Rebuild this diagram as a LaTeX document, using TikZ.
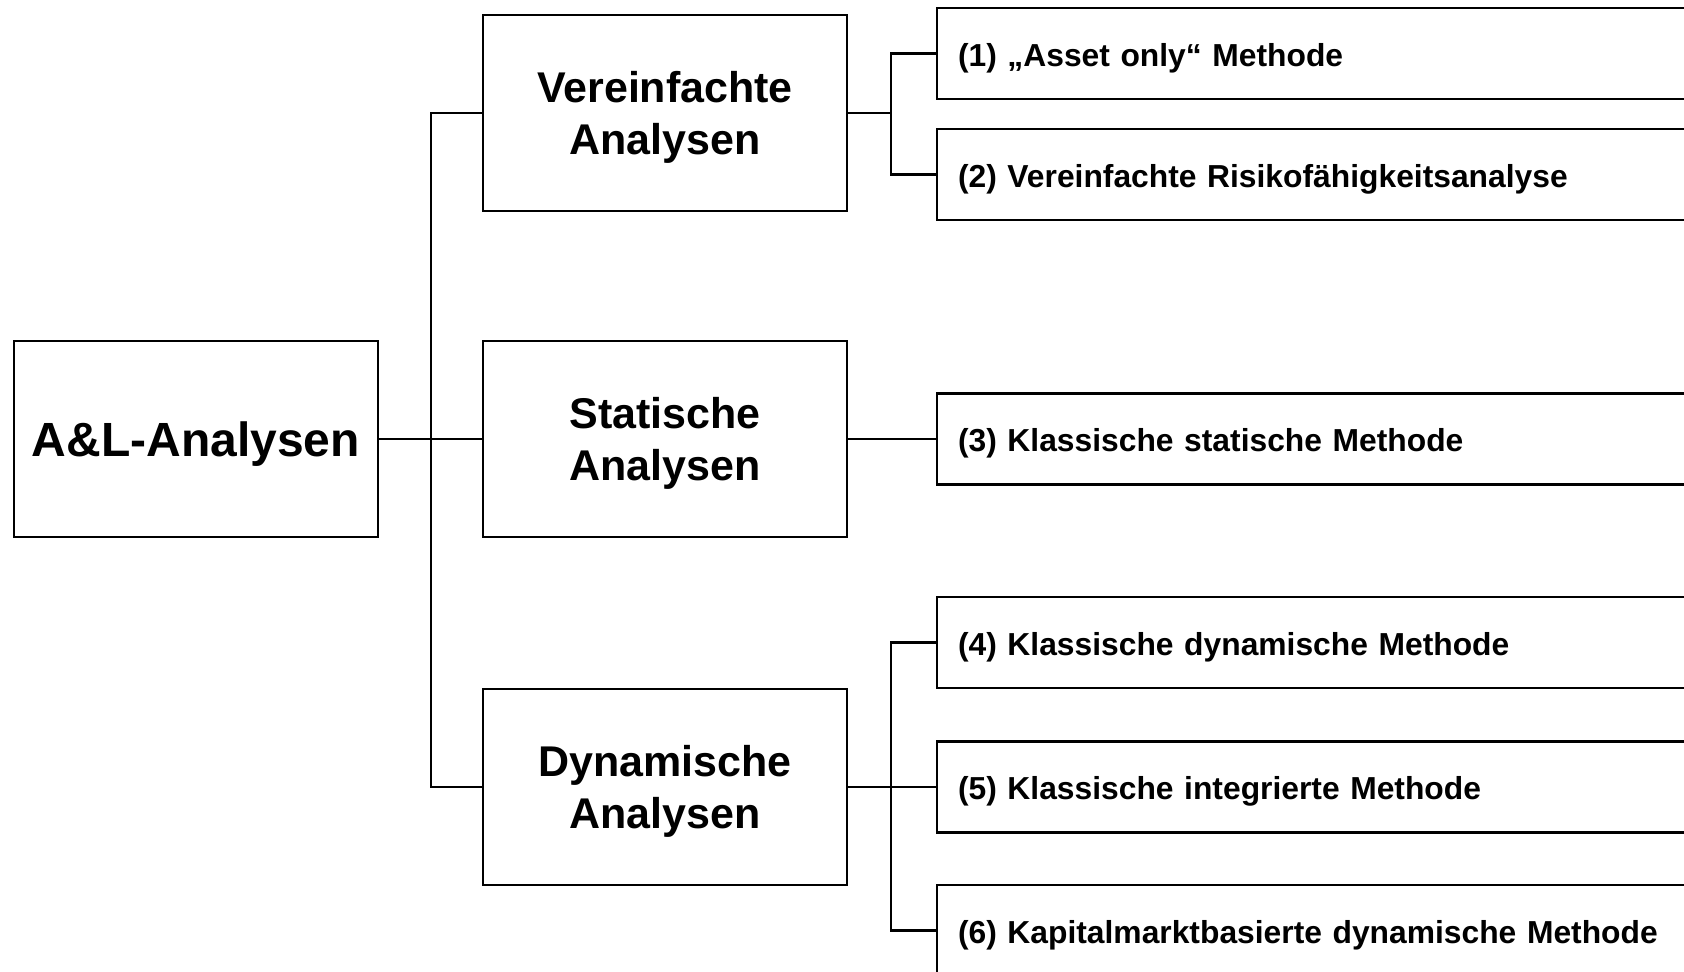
\documentclass[tikz,border=0pt]{standalone}
\usepackage{fontspec}
\setmainfont{Liberation Sans}
\begin{document}
\begin{tikzpicture}[x=0.5pt,y=-0.5pt,
  box/.style={draw=black,line width=1.1pt,fill=white,inner sep=0pt,text depth=0pt,font=\bfseries},
  rootbox/.style={box,minimum width=182pt,minimum height=98pt,font=\fontsize{24}{28}\bfseries\selectfont},
  groupbox/.style={box,minimum width=182pt,minimum height=98pt,align=center,font=\fontsize{21.5}{25.8}\bfseries\selectfont},
  methodbox/.style={box,minimum height=45.5pt,inner xsep=10.5pt,text width=370.5pt,text height=12.6pt,align=left,font=\fontsize{15.9}{20}\bfseries\selectfont},
  conn/.style={draw=black,line width=1.1pt}]
\useasboundingbox (0,0) rectangle (1684,971);
\clip (0,0) rectangle (1684,971);

% root
\node[rootbox] (root) at (196,439) {A\&L-Analysen};

% groups
\node[groupbox] (v) at (665,113) {Vereinfachte\\Analysen};
\node[groupbox] (s) at (665,439) {Statische\\Analysen};
\node[groupbox] (d) at (665,787) {Dynamische\\Analysen};

% methods
\node[methodbox] (m1) at (1328.5,53.5) {(1) „Asset only“ Methode};
\node[methodbox] (m2) at (1328.5,174.5) {(2) Vereinfachte Risikofähigkeitsanalyse};
\node[methodbox] (m3) at (1328.5,439) {(3) Klassische statische Methode};
\node[methodbox] (m4) at (1328.5,642.5) {(4) Klassische dynamische Methode};
\node[methodbox] (m5) at (1328.5,787) {(5) Klassische integrierte Methode};
\node[methodbox] (m6) at (1328.5,930.5) {(6) Kapitalmarktbasierte dynamische Methode};

% branch lines
\coordinate (tr) at (431,0);
\coordinate (br) at (891,0);

\draw[conn] (root.east) -- (root.east -| tr);
\draw[conn] (v.west) -- (v.west -| tr) -- (d.west -| tr) -- (d.west);
\draw[conn] (s.west) -- (s.west -| tr);

\draw[conn] (v.east) -- (v.east -| br);
\draw[conn] (m1.west) -- (m1.west -| br) -- (m2.west -| br) -- (m2.west);

\draw[conn] (s.east) -- (m3.west);

\draw[conn] (d.east) -- (d.east -| br);
\draw[conn] (m4.west) -- (m4.west -| br) -- (m6.west -| br) -- (m6.west);
\draw[conn] (m5.west) -- (m5.west -| br);
\end{tikzpicture}
\end{document}
